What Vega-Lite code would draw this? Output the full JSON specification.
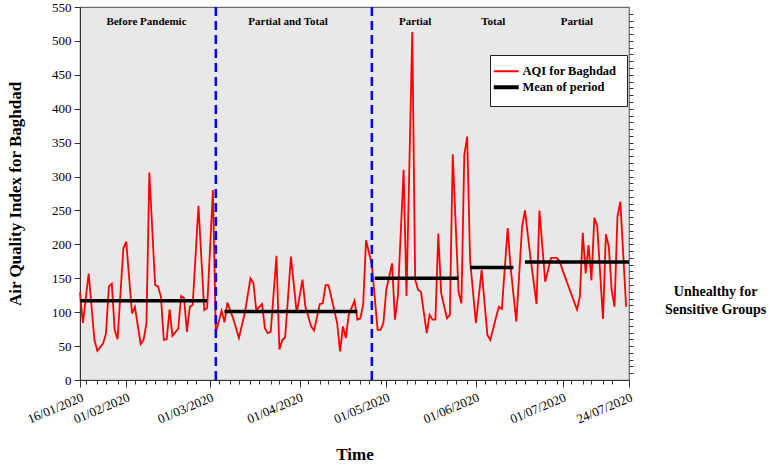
{
  "$schema": "https://vega.github.io/schema/vega-lite/v6.json",
  "width": 549,
  "height": 373,
  "autosize": {"type": "none"},
  "padding": {"left": 80, "top": 7, "right": 141, "bottom": 87},
  "background": "white",
  "config": {
    "view": {"fill": "#e8e8e8", "stroke": "#6b6b6b", "strokeWidth": 1.2},
    "font": "Liberation Serif",
    "axis": {
      "labelFont": "Liberation Serif", "titleFont": "Liberation Serif",
      "labelColor": "#000", "titleColor": "#000",
      "domainColor": "#333", "tickColor": "#333", "grid": false,
      "labelFontSize": 13, "titleFontSize": 17, "titleFontWeight": "bold"
    }
  },
  "datasets": {
    "aqi": [
      {"date": "2020-01-16", "aqi": 129}, {"date": "2020-01-17", "aqi": 84}, {"date": "2020-01-19", "aqi": 157},
      {"date": "2020-01-21", "aqi": 59}, {"date": "2020-01-22", "aqi": 43}, {"date": "2020-01-24", "aqi": 54},
      {"date": "2020-01-25", "aqi": 69}, {"date": "2020-01-26", "aqi": 138}, {"date": "2020-01-27", "aqi": 142},
      {"date": "2020-01-28", "aqi": 74}, {"date": "2020-01-29", "aqi": 60}, {"date": "2020-01-31", "aqi": 194},
      {"date": "2020-02-01", "aqi": 204}, {"date": "2020-02-03", "aqi": 98}, {"date": "2020-02-04", "aqi": 108},
      {"date": "2020-02-06", "aqi": 53}, {"date": "2020-02-07", "aqi": 59}, {"date": "2020-02-08", "aqi": 84},
      {"date": "2020-02-09", "aqi": 306}, {"date": "2020-02-11", "aqi": 140}, {"date": "2020-02-12", "aqi": 138},
      {"date": "2020-02-13", "aqi": 123}, {"date": "2020-02-14", "aqi": 59}, {"date": "2020-02-15", "aqi": 60},
      {"date": "2020-02-16", "aqi": 104}, {"date": "2020-02-17", "aqi": 65}, {"date": "2020-02-19", "aqi": 76},
      {"date": "2020-02-20", "aqi": 124}, {"date": "2020-02-21", "aqi": 121}, {"date": "2020-02-22", "aqi": 71},
      {"date": "2020-02-23", "aqi": 108}, {"date": "2020-02-24", "aqi": 111}, {"date": "2020-02-26", "aqi": 257},
      {"date": "2020-02-28", "aqi": 103}, {"date": "2020-02-29", "aqi": 106}, {"date": "2020-03-02", "aqi": 280},
      {"date": "2020-03-03", "aqi": 70}, {"date": "2020-03-05", "aqi": 102}, {"date": "2020-03-06", "aqi": 85},
      {"date": "2020-03-07", "aqi": 114}, {"date": "2020-03-09", "aqi": 91}, {"date": "2020-03-11", "aqi": 62},
      {"date": "2020-03-13", "aqi": 98}, {"date": "2020-03-15", "aqi": 150}, {"date": "2020-03-16", "aqi": 143},
      {"date": "2020-03-17", "aqi": 103}, {"date": "2020-03-19", "aqi": 112}, {"date": "2020-03-20", "aqi": 76},
      {"date": "2020-03-21", "aqi": 69}, {"date": "2020-03-22", "aqi": 71}, {"date": "2020-03-24", "aqi": 183},
      {"date": "2020-03-25", "aqi": 45}, {"date": "2020-03-26", "aqi": 59}, {"date": "2020-03-27", "aqi": 63},
      {"date": "2020-03-29", "aqi": 182}, {"date": "2020-03-31", "aqi": 99}, {"date": "2020-04-02", "aqi": 148},
      {"date": "2020-04-03", "aqi": 108}, {"date": "2020-04-05", "aqi": 79}, {"date": "2020-04-06", "aqi": 73},
      {"date": "2020-04-08", "aqi": 112}, {"date": "2020-04-09", "aqi": 113}, {"date": "2020-04-10", "aqi": 140},
      {"date": "2020-04-11", "aqi": 140}, {"date": "2020-04-14", "aqi": 84}, {"date": "2020-04-15", "aqi": 42},
      {"date": "2020-04-16", "aqi": 79}, {"date": "2020-04-17", "aqi": 62}, {"date": "2020-04-18", "aqi": 96},
      {"date": "2020-04-20", "aqi": 117}, {"date": "2020-04-21", "aqi": 89}, {"date": "2020-04-22", "aqi": 91},
      {"date": "2020-04-23", "aqi": 111}, {"date": "2020-04-24", "aqi": 206}, {"date": "2020-04-26", "aqi": 170},
      {"date": "2020-04-28", "aqi": 74}, {"date": "2020-04-29", "aqi": 74}, {"date": "2020-04-30", "aqi": 84},
      {"date": "2020-05-01", "aqi": 133}, {"date": "2020-05-03", "aqi": 172}, {"date": "2020-05-04", "aqi": 89},
      {"date": "2020-05-05", "aqi": 123}, {"date": "2020-05-07", "aqi": 310}, {"date": "2020-05-08", "aqi": 124},
      {"date": "2020-05-10", "aqi": 513}, {"date": "2020-05-11", "aqi": 148}, {"date": "2020-05-12", "aqi": 133},
      {"date": "2020-05-13", "aqi": 130}, {"date": "2020-05-15", "aqi": 69}, {"date": "2020-05-16", "aqi": 96},
      {"date": "2020-05-17", "aqi": 89}, {"date": "2020-05-18", "aqi": 89}, {"date": "2020-05-19", "aqi": 216},
      {"date": "2020-05-20", "aqi": 128}, {"date": "2020-05-22", "aqi": 91}, {"date": "2020-05-23", "aqi": 96},
      {"date": "2020-05-24", "aqi": 333}, {"date": "2020-05-26", "aqi": 130}, {"date": "2020-05-27", "aqi": 113},
      {"date": "2020-05-28", "aqi": 332}, {"date": "2020-05-29", "aqi": 359}, {"date": "2020-05-30", "aqi": 177},
      {"date": "2020-06-01", "aqi": 84}, {"date": "2020-06-03", "aqi": 162}, {"date": "2020-06-05", "aqi": 66},
      {"date": "2020-06-06", "aqi": 59}, {"date": "2020-06-08", "aqi": 93}, {"date": "2020-06-09", "aqi": 108},
      {"date": "2020-06-10", "aqi": 105}, {"date": "2020-06-12", "aqi": 224}, {"date": "2020-06-13", "aqi": 167},
      {"date": "2020-06-15", "aqi": 86}, {"date": "2020-06-17", "aqi": 226}, {"date": "2020-06-18", "aqi": 250},
      {"date": "2020-06-20", "aqi": 177}, {"date": "2020-06-22", "aqi": 112}, {"date": "2020-06-23", "aqi": 250},
      {"date": "2020-06-25", "aqi": 145}, {"date": "2020-06-27", "aqi": 180}, {"date": "2020-06-29", "aqi": 180},
      {"date": "2020-06-30", "aqi": 175}, {"date": "2020-07-01", "aqi": 162}, {"date": "2020-07-06", "aqi": 104},
      {"date": "2020-07-07", "aqi": 123}, {"date": "2020-07-08", "aqi": 217}, {"date": "2020-07-09", "aqi": 157},
      {"date": "2020-07-10", "aqi": 199}, {"date": "2020-07-11", "aqi": 147}, {"date": "2020-07-12", "aqi": 239},
      {"date": "2020-07-13", "aqi": 227}, {"date": "2020-07-15", "aqi": 90}, {"date": "2020-07-16", "aqi": 215},
      {"date": "2020-07-17", "aqi": 197}, {"date": "2020-07-18", "aqi": 133}, {"date": "2020-07-19", "aqi": 108},
      {"date": "2020-07-20", "aqi": 241}, {"date": "2020-07-21", "aqi": 263}, {"date": "2020-07-23", "aqi": 108}
    ],
    "means": [
      {"start": "2020-01-16", "end": "2020-02-29", "mean": 117},
      {"start": "2020-03-06", "end": "2020-04-21", "mean": 101},
      {"start": "2020-04-27", "end": "2020-05-26", "mean": 150},
      {"start": "2020-05-30", "end": "2020-06-14", "mean": 166},
      {"start": "2020-06-18", "end": "2020-07-24", "mean": 174}
    ],
    "breaks": [{"date": "2020-03-03"}, {"date": "2020-04-26"}],
    "periods": [
      {"date": "2020-02-08", "label": "Before Pandemic"},
      {"date": "2020-03-28", "label": "Partial and Total"},
      {"date": "2020-05-11", "label": "Partial"},
      {"date": "2020-06-07", "label": "Total"},
      {"date": "2020-07-06", "label": "Partial"}
    ]
  },
  "layer": [
    {
      "data": {"name": "aqi"},
      "mark": {"type": "line", "strokeWidth": 1.8},
      "encoding": {
        "x": {
          "field": "date", "type": "temporal",
          "scale": {"type": "utc", "nice": false,
            "domain": [{"year": 2020, "month": 1, "date": 16, "utc": true}, {"year": 2020, "month": 7, "date": 24, "utc": true}]},
          "axis": {
            "values": [
              {"year": 2020, "month": 1, "date": 16, "utc": true},
              {"year": 2020, "month": 2, "date": 1, "utc": true},
              {"year": 2020, "month": 3, "date": 1, "utc": true},
              {"year": 2020, "month": 4, "date": 1, "utc": true},
              {"year": 2020, "month": 5, "date": 1, "utc": true},
              {"year": 2020, "month": 6, "date": 1, "utc": true},
              {"year": 2020, "month": 7, "date": 1, "utc": true},
              {"year": 2020, "month": 7, "date": 24, "utc": true}
            ],
            "format": "%d/%m/%Y", "labelAngle": -23, "labelAlign": "right", "labelBaseline": "top",
            "labelFontSize": 13, "labelOverlap": false, "labelFlush": false, "labelPadding": 4,
            "tickSize": 7, "title": "Time", "titlePadding": 20
          }
        },
        "y": {
          "field": "aqi", "type": "quantitative",
          "scale": {"domain": [0, 550], "nice": false},
          "axis": {"values": [0, 50, 100, 150, 200, 250, 300, 350, 400, 450, 500, 550], "tickSize": 6,
            "labelPadding": 3, "title": "Air Quality Index for Baghdad", "titlePadding": 27}
        },
        "color": {
          "datum": "AQI for Baghdad",
          "scale": {"domain": ["AQI for Baghdad", "Mean of period"], "range": ["#ff0000", "#000000"]},
          "legend": {
            "orient": "none", "legendX": 410, "legendY": 48, "title": null,
            "symbolType": "stroke", "symbolSize": 625, "symbolStrokeWidth": 2.5,
            "labelFont": "Liberation Serif", "labelFontWeight": "bold", "labelFontSize": 12.5, "labelColor": "#000",
            "strokeColor": "#222", "fillColor": "#ffffff", "padding": 10, "rowPadding": 1, "labelOffset": 10,
            "encode": {"symbols": {"update": {"strokeWidth": {"signal": "datum.value === 'Mean of period' ? 4 : 2"}}}}
          }
        }
      }
    },
    {
      "data": {"name": "means"},
      "mark": {"type": "rule", "strokeWidth": 3.5},
      "encoding": {
        "x": {"field": "start", "type": "temporal",
          "axis": {"orient": "bottom", "labels": false, "domain": false, "title": null, "tickSize": 4,
            "values": [
              {"year": 2020, "month": 1, "date": 18, "utc": true}, {"year": 2020, "month": 1, "date": 22, "utc": true},
              {"year": 2020, "month": 1, "date": 25, "utc": true}, {"year": 2020, "month": 1, "date": 29, "utc": true},
              {"year": 2020, "month": 2, "date": 4, "utc": true}, {"year": 2020, "month": 2, "date": 8, "utc": true},
              {"year": 2020, "month": 2, "date": 11, "utc": true}, {"year": 2020, "month": 2, "date": 15, "utc": true},
              {"year": 2020, "month": 2, "date": 18, "utc": true}, {"year": 2020, "month": 2, "date": 22, "utc": true},
              {"year": 2020, "month": 2, "date": 25, "utc": true},
              {"year": 2020, "month": 3, "date": 4, "utc": true}, {"year": 2020, "month": 3, "date": 8, "utc": true},
              {"year": 2020, "month": 3, "date": 11, "utc": true}, {"year": 2020, "month": 3, "date": 15, "utc": true},
              {"year": 2020, "month": 3, "date": 18, "utc": true}, {"year": 2020, "month": 3, "date": 22, "utc": true},
              {"year": 2020, "month": 3, "date": 25, "utc": true}, {"year": 2020, "month": 3, "date": 29, "utc": true},
              {"year": 2020, "month": 4, "date": 4, "utc": true}, {"year": 2020, "month": 4, "date": 8, "utc": true},
              {"year": 2020, "month": 4, "date": 11, "utc": true}, {"year": 2020, "month": 4, "date": 15, "utc": true},
              {"year": 2020, "month": 4, "date": 18, "utc": true}, {"year": 2020, "month": 4, "date": 22, "utc": true},
              {"year": 2020, "month": 4, "date": 25, "utc": true}, {"year": 2020, "month": 4, "date": 29, "utc": true},
              {"year": 2020, "month": 5, "date": 4, "utc": true}, {"year": 2020, "month": 5, "date": 8, "utc": true},
              {"year": 2020, "month": 5, "date": 11, "utc": true}, {"year": 2020, "month": 5, "date": 15, "utc": true},
              {"year": 2020, "month": 5, "date": 18, "utc": true}, {"year": 2020, "month": 5, "date": 22, "utc": true},
              {"year": 2020, "month": 5, "date": 25, "utc": true}, {"year": 2020, "month": 5, "date": 29, "utc": true},
              {"year": 2020, "month": 6, "date": 4, "utc": true}, {"year": 2020, "month": 6, "date": 8, "utc": true},
              {"year": 2020, "month": 6, "date": 11, "utc": true}, {"year": 2020, "month": 6, "date": 15, "utc": true},
              {"year": 2020, "month": 6, "date": 18, "utc": true}, {"year": 2020, "month": 6, "date": 22, "utc": true},
              {"year": 2020, "month": 6, "date": 25, "utc": true}, {"year": 2020, "month": 6, "date": 29, "utc": true},
              {"year": 2020, "month": 7, "date": 4, "utc": true}, {"year": 2020, "month": 7, "date": 8, "utc": true},
              {"year": 2020, "month": 7, "date": 11, "utc": true}, {"year": 2020, "month": 7, "date": 15, "utc": true},
              {"year": 2020, "month": 7, "date": 18, "utc": true}
            ]}},
        "x2": {"field": "end"},
        "y": {"field": "mean", "type": "quantitative",
          "axis": {"orient": "right", "labels": false, "domain": false, "title": null, "tickSize": 4,
            "values": [10,20,30,40,50,60,70,80,90,100,110,120,130,140,150,160,170,180,190,200,210,220,230,240,250,260,270,280,290,300,310,320,330,340,350,360,370,380,390,400,410,420,430,440,450,460,470,480,490,500,510,520,530,540]}},
        "color": {"datum": "Mean of period"}
      }
    },
    {
      "data": {"name": "breaks"},
      "mark": {"type": "rule", "color": "#0000ff", "strokeWidth": 2.5, "strokeDash": [9, 5]},
      "encoding": {"x": {"field": "date", "type": "temporal", "axis": null}}
    },
    {
      "data": {"name": "periods"},
      "mark": {"type": "text", "font": "Liberation Serif", "fontWeight": "bold", "fontSize": 11, "color": "#000", "baseline": "middle"},
      "encoding": {
        "x": {"field": "date", "type": "temporal", "axis": null},
        "y": {"datum": 528, "type": "quantitative", "axis": null},
        "text": {"field": "label"}
      }
    },
    {
      "data": {"values": [{"note": "Unhealthy for Sensitive Groups"}]},
      "mark": {"type": "text", "text": ["Unhealthy for", "Sensitive Groups"], "font": "Liberation Serif", "fontWeight": "bold",
        "fontSize": 14, "lineHeight": 18, "color": "#000", "align": "center", "baseline": "middle"},
      "encoding": {
        "x": {"datum": {"year": 2020, "month": 8, "date": 23, "utc": true}, "type": "temporal", "axis": null},
        "y": {"datum": 130, "type": "quantitative", "axis": null}
      }
    }
  ],
  "resolve": {"axis": {"x": "independent", "y": "independent"}}
}
